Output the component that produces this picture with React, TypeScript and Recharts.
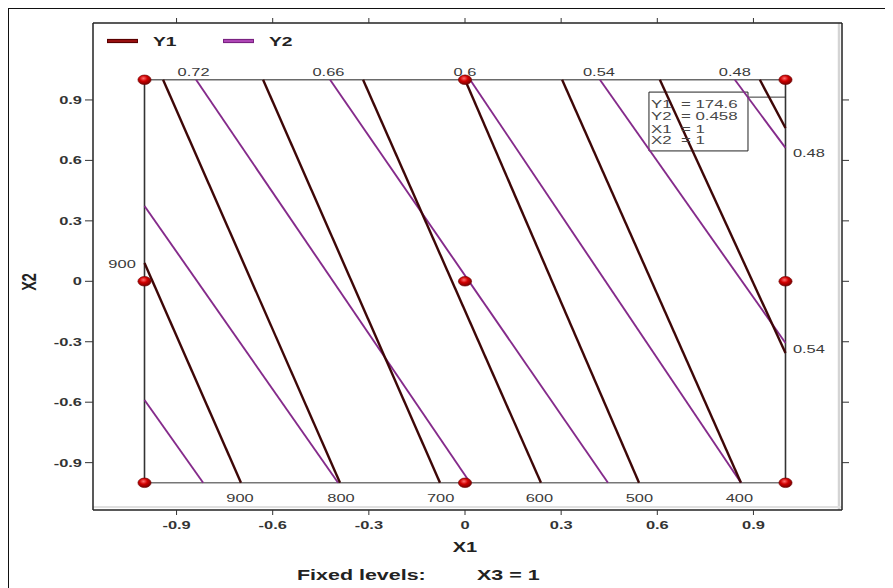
import React from 'react';
import { ScatterChart, Scatter, XAxis, YAxis, ReferenceLine, ReferenceArea, Legend } from 'recharts';

const SX = 1.43;
const FONT = '"Liberation Sans", Arial, Helvetica, sans-serif';

const X_DOMAIN: [number, number] = [-1.1607, 1.1763];
const Y_DOMAIN: [number, number] = [-1.135, 1.2819];
const xTicks = [-0.9, -0.6, -0.3, 0, 0.3, 0.6, 0.9];
const yTicks = [-0.9, -0.6, -0.3, 0, 0.3, 0.6, 0.9];

const Y1_COLOR = '#3e0707';
const Y2_COLOR = '#852b8b';

// Y1 contours (900 ... 200)
const y1_900 = [{ x: -1, y: 0.091 }, { x: -0.699, y: -1 }];
const y1_800 = [{ x: -0.942, y: 1 }, { x: -0.39, y: -1 }];
const y1_700 = [{ x: -0.63, y: 1 }, { x: -0.078, y: -1 }];
const y1_600 = [{ x: -0.318, y: 1 }, { x: 0.237, y: -1 }];
const y1_500 = [{ x: 0.0, y: 1 }, { x: 0.543, y: -1 }];
const y1_400 = [{ x: 0.303, y: 1 }, { x: 0.861, y: -1 }];
const y1_300 = [{ x: 0.608, y: 1 }, { x: 1, y: -0.356 }];
const y1_200 = [{ x: 0.92, y: 1 }, { x: 1, y: 0.761 }];
const y1Contours = [y1_900, y1_800, y1_700, y1_600, y1_500, y1_400, y1_300, y1_200];

// Y2 contours (0.84 ... 0.48)
const y2_084 = [{ x: -1, y: -0.589 }, { x: -0.817, y: -1 }];
const y2_078 = [{ x: -1, y: 0.374 }, { x: -0.396, y: -1 }];
const y2_072 = [{ x: -0.839, y: 1 }, { x: 0.016, y: -1 }];
const y2_066 = [{ x: -0.421, y: 1 }, { x: 0.446, y: -1 }];
const y2_060 = [{ x: 0.016, y: 1 }, { x: 0.861, y: -1 }];
const y2_054 = [{ x: 0.421, y: 1 }, { x: 1, y: -0.306 }];
const y2_048 = [{ x: 0.842, y: 1 }, { x: 1, y: 0.662 }];
const y2Contours = [y2_084, y2_078, y2_072, y2_066, y2_060, y2_054, y2_048];

const designPoints = [
  { x: -1, y: 1 }, { x: 0, y: 1 }, { x: 1, y: 1 },
  { x: -1, y: 0 }, { x: 0, y: 0 }, { x: 1, y: 0 },
  { x: -1, y: -1 }, { x: 0, y: -1 }, { x: 1, y: -1 },
];

const y1Labels = [
  { x: -0.702, y: -1.075, t: '900' },
  { x: -0.387, y: -1.075, t: '800' },
  { x: -0.076, y: -1.075, t: '700' },
  { x: 0.232, y: -1.075, t: '600' },
  { x: 0.544, y: -1.075, t: '500' },
  { x: 0.856, y: -1.075, t: '400' },
  { x: -1.07, y: 0.086, t: '900' },
];
const y2Labels = [
  { x: -0.847, y: 1.039, t: '0.72' },
  { x: -0.426, y: 1.039, t: '0.66' },
  { x: 0.0, y: 1.039, t: '0.6' },
  { x: 0.418, y: 1.039, t: '0.54' },
  { x: 0.842, y: 1.039, t: '0.48' },
  { x: 1.073, y: 0.638, t: '0.48' },
  { x: 1.073, y: -0.334, t: '0.54' },
];
const tipLines = [
  { x: 0.58, y: 0.883, t: 'Y1  = 174.6' },
  { x: 0.58, y: 0.82, t: 'Y2  = 0.458' },
  { x: 0.58, y: 0.759, t: 'X1  = 1' },
  { x: 0.58, y: 0.701, t: 'X2  = 1' },
];
const legendItems = [
  { name: 'Y1', outer: '#5a0000', inner: '#b31818' },
  { name: 'Y2', outer: '#7a2281', inner: '#c457cc' },
];
const fixedLevelsText = ['Fixed levels:', 'X3 = 1'];

function SText(props: any) {
  const { x, y, anchor = 'middle', size = 11.5, weight = 'normal', fill = '#333', children } = props;
  return (
    <text
      transform={`translate(${x},${y}) scale(${SX},1)`}
      textAnchor={anchor}
      fontSize={size}
      fontWeight={weight}
      fill={fill}
      fontFamily={FONT}
      style={{ whiteSpace: 'pre' }}
    >
      {children}
    </text>
  );
}

const fmt = (v: number) => (Math.abs(v) < 1e-9 ? '0' : String(v));

const BottomTick = (p: any) => (
  <SText x={p.x} y={p.y + 12} size={11.5} weight="bold" fill="#333">{fmt(p.payload.value)}</SText>
);
const LeftTick = (p: any) => (
  <SText x={p.x} y={p.y + 4} anchor="end" size={11.5} weight="bold" fill="#333">{fmt(p.payload.value)}</SText>
);
const EmptyTick = () => <g />;

const XTitle = (p: any) => {
  const vb = p.viewBox || { x: 85, y: 502, width: 749, height: 40 };
  return (
    <g>
      <SText x={vb.x + vb.width / 2 - 2.5} y={vb.y + 42} size={14} weight="bold" fill="#222">X1</SText>
      <SText x={vb.x + 204} y={vb.y + 69.5} anchor="start" size={15} weight="bold" fill="#222">{fixedLevelsText[0]}</SText>
      <SText x={vb.x + 384} y={vb.y + 69.5} anchor="start" size={15} weight="bold" fill="#222">{fixedLevelsText[1]}</SText>
    </g>
  );
};
const YTitle = (p: any) => {
  const vb = p.viewBox || { x: 10, y: 15, width: 75, height: 487 };
  const cx = vb.x + 11;
  const cy = 274;
  return (
    <text
      transform={`translate(${cx},${cy}) scale(${SX},1) rotate(-90)`}
      textAnchor="middle"
      y={5}
      fontSize={14.5}
      fontWeight="bold"
      fill="#222"
      fontFamily={FONT}
    >
      X2
    </text>
  );
};

const LegendBox = () => (
  <svg width={240} height={26} style={{ display: 'block' }}>
    {legendItems.map((it, i) => {
      const ox = i * 116;
      return (
        <g key={it.name}>
          <line x1={ox + 7} x2={ox + 38} y1={13} y2={13} stroke={it.outer} strokeWidth={4.2} />
          <line x1={ox + 8} x2={ox + 37} y1={13} y2={13} stroke={it.inner} strokeWidth={1.4} />
          <SText x={ox + 53} y={18} anchor="start" size={13.5} weight="bold" fill="#222">{it.name}</SText>
        </g>
      );
    })}
  </svg>
);

const LineOnly = () => <g />;
const LabelShape = (p: any) => (
  <SText x={p.cx} y={p.cy + 4} size={11.5} fill="#3a3a3a">{p.payload.t}</SText>
);
const TipShape = (p: any) => (
  <SText x={p.cx} y={p.cy + 4.2} anchor="start" size={11.8} fill="#474747">{p.payload.t}</SText>
);
const PointShape = (p: any) => {
  const id = `pg${Math.round(p.cx)}_${Math.round(p.cy)}`;
  return (
    <g>
      <defs>
        <radialGradient id={id} cx="42%" cy="35%" r="65%">
          <stop offset="0%" stopColor="#ff7070" />
          <stop offset="45%" stopColor="#d10000" />
          <stop offset="100%" stopColor="#760000" />
        </radialGradient>
      </defs>
      <ellipse cx={p.cx} cy={p.cy} rx={6.6} ry={4.8} fill={`url(#${id})`} stroke="#6a0000" strokeWidth={0.6} />
    </g>
  );
};

export default function App() {
  const ax = { xAxisId: 'b', yAxisId: 'l' };
  return (
    <div style={{ position: 'relative', width: 885, height: 580 }}>
      <style>{'body{overflow:hidden;background:#fff}'}</style>
      <ScatterChart width={885} height={580} margin={{ top: 5, right: 41, bottom: 38, left: 10 }}>
        <XAxis
          xAxisId="b"
          type="number"
          dataKey="x"
          orientation="bottom"
          domain={X_DOMAIN}
          allowDataOverflow
          ticks={xTicks}
          interval={0}
          height={40}
          tickSize={5}
          tickMargin={2}
          tick={BottomTick}
          axisLine={{ stroke: '#222', strokeWidth: 1.5 }}
          tickLine={{ stroke: '#333' }}
          label={<XTitle />}
        />
        <XAxis
          xAxisId="t"
          type="number"
          dataKey="x"
          orientation="top"
          domain={X_DOMAIN}
          allowDataOverflow
          ticks={xTicks}
          interval={0}
          height={10}
          tickSize={5}
          tick={EmptyTick}
          axisLine={{ stroke: '#222', strokeWidth: 1.5 }}
          tickLine={{ stroke: '#333' }}
        />
        <YAxis
          yAxisId="l"
          type="number"
          dataKey="y"
          orientation="left"
          domain={Y_DOMAIN}
          allowDataOverflow
          ticks={yTicks}
          interval={0}
          width={75}
          tickSize={8}
          tickMargin={3}
          tick={LeftTick}
          axisLine={{ stroke: '#222', strokeWidth: 1.5 }}
          tickLine={{ stroke: '#333' }}
          label={<YTitle />}
        />
        <YAxis
          yAxisId="r"
          type="number"
          dataKey="y"
          orientation="right"
          domain={Y_DOMAIN}
          allowDataOverflow
          ticks={yTicks}
          interval={0}
          width={10}
          tickSize={7}
          tick={EmptyTick}
          axisLine={{ stroke: '#222', strokeWidth: 1.5 }}
          tickLine={{ stroke: '#333' }}
        />
        <Legend
          layout="vertical"
          align="center"
          verticalAlign="middle"
          wrapperStyle={{ position: 'absolute', left: 92, top: 20, width: 240, height: 26 }}
          content={() => <LegendBox />}
        />
        <ReferenceLine {...ax} x={1.167} stroke="#d4d4d4" strokeWidth={2.5} />
        <ReferenceLine {...ax} y={-1.12} stroke="#e0e0e0" strokeWidth={2} />
        <ReferenceLine {...ax} segment={[{ x: -1, y: 1 }, { x: 1, y: 1 }]} stroke="#6a6a6a" strokeWidth={1.6} />
        <ReferenceLine {...ax} segment={[{ x: -1, y: -1 }, { x: 1, y: -1 }]} stroke="#777" strokeWidth={1.6} />
        <ReferenceLine {...ax} segment={[{ x: -1, y: -1 }, { x: -1, y: 1 }]} stroke="#333" strokeWidth={1.6} />
        <ReferenceLine {...ax} segment={[{ x: 1, y: -1 }, { x: 1, y: 1 }]} stroke="#333" strokeWidth={1.6} />
        <ReferenceArea {...ax} x1={0.574} x2={0.883} y1={0.647} y2={0.939} fill="none" fillOpacity={0} stroke="#222" strokeWidth={1} />
        <ReferenceLine {...ax} segment={[{ x: 0.883, y: 0.914 }, { x: 1, y: 0.914 }]} stroke="#333" strokeWidth={1} />
        {y2Contours.map((d, i) => (
          <Scatter key={`y2-${i}`} {...ax} data={d} line={{ stroke: Y2_COLOR, strokeWidth: 1.9 }} shape={LineOnly} isAnimationActive={false} legendType="none" />
        ))}
        {y1Contours.map((d, i) => (
          <Scatter key={`y1-${i}`} {...ax} data={d} line={{ stroke: Y1_COLOR, strokeWidth: 2.4 }} shape={LineOnly} isAnimationActive={false} legendType="none" />
        ))}
        <Scatter {...ax} data={y1Labels} shape={LabelShape} isAnimationActive={false} legendType="none" />
        <Scatter {...ax} data={y2Labels} shape={LabelShape} isAnimationActive={false} legendType="none" />
        <Scatter {...ax} data={tipLines} shape={TipShape} isAnimationActive={false} legendType="none" />
        <Scatter {...ax} data={designPoints} shape={PointShape} isAnimationActive={false} legendType="none" />
      </ScatterChart>
      <div
        style={{
          position: 'absolute',
          left: -1,
          top: -1,
          width: 886,
          height: 581,
          borderTop: '2px solid #111',
          borderLeft: '2px solid #111',
          boxSizing: 'border-box',
          pointerEvents: 'none',
        }}
      />
    </div>
  );
}
